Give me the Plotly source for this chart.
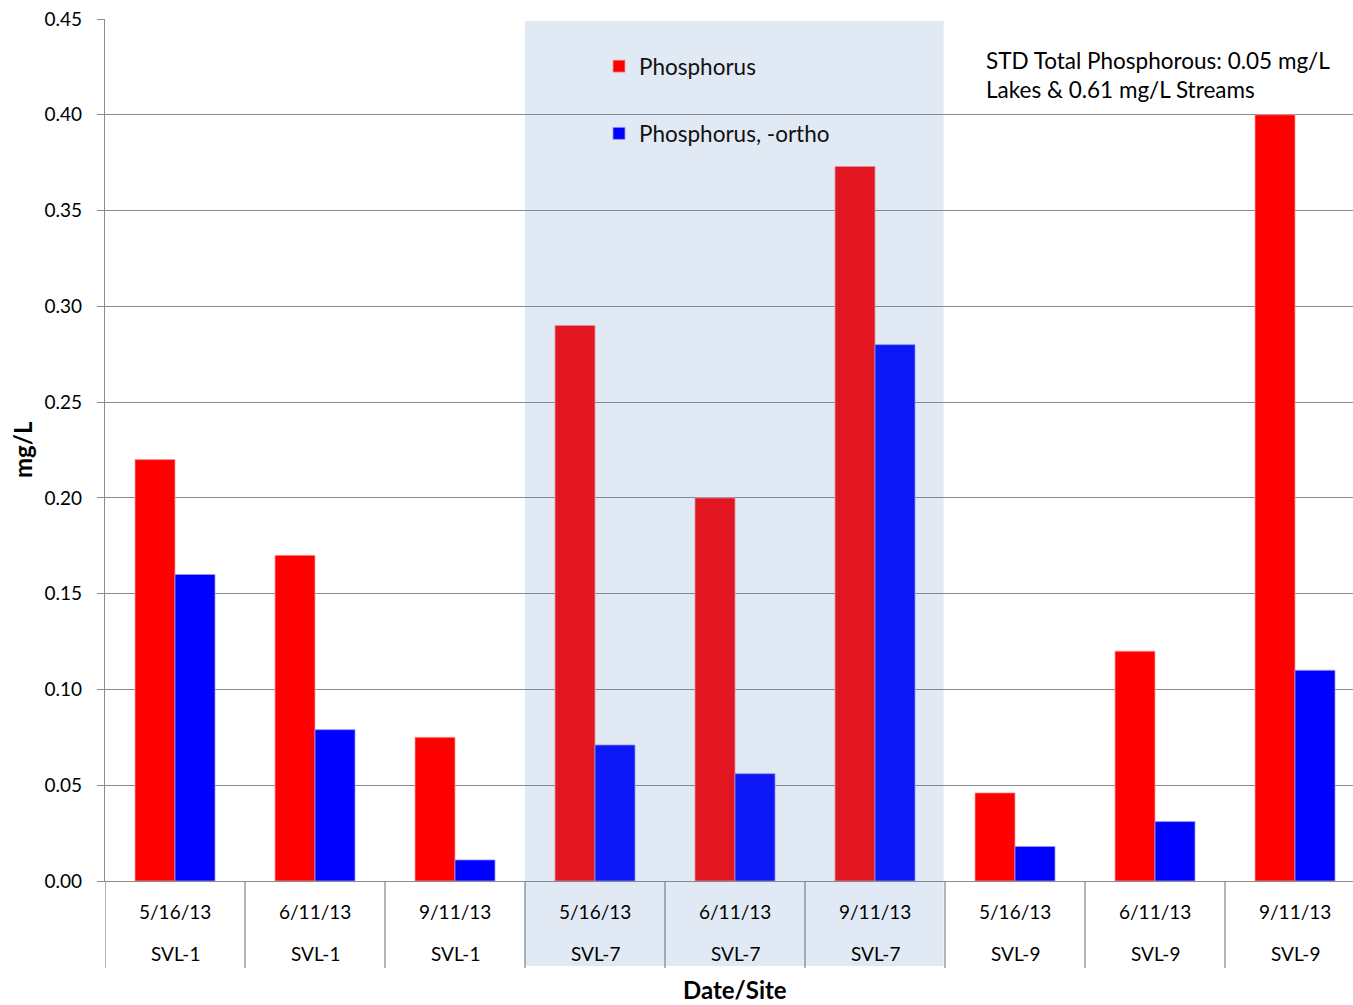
import plotly.graph_objects as go

dates = ["5/16/13", "6/11/13", "9/11/13", "5/16/13", "6/11/13", "9/11/13", "5/16/13", "6/11/13", "9/11/13"]
sites = ["SVL-1", "SVL-1", "SVL-1", "SVL-7", "SVL-7", "SVL-7", "SVL-9", "SVL-9", "SVL-9"]
phosphorus = [0.22, 0.17, 0.075, 0.29, 0.20, 0.373, 0.046, 0.12, 0.40]
ortho = [0.16, 0.079, 0.011, 0.071, 0.056, 0.28, 0.018, 0.031, 0.11]
y_ticks = [0.00, 0.05, 0.10, 0.15, 0.20, 0.25, 0.30, 0.35, 0.40, 0.45]

FONT = "Lato"
GRID = "#8c8c8c"
idx = list(range(len(dates)))

fig = go.Figure()
fig.add_trace(go.Bar(x=idx, y=phosphorus, name="Phosphorus",
                     marker=dict(color="#FF0000", line=dict(color="rgba(255,150,150,0.8)", width=1)),
                     legendgroup="a"))
fig.add_trace(go.Bar(x=idx, y=ortho, name="Phosphorus, -ortho",
                     marker=dict(color="#0000FF", line=dict(color="rgba(150,150,255,0.8)", width=1)),
                     legendgroup="b"))

shapes = []
# white box behind the legend masking the gridline
shapes.append(dict(type="rect", xref="paper", yref="paper", x0=(563-105)/1248, x1=(883-105)/1248,
                   y0=(881-150)/862, y1=(881-22)/862, fillcolor="white", line=dict(width=0), layer="between"))
# category separators below the axis
for i in range(len(dates) + 1):
    shapes.append(dict(type="line", xref="x", yref="paper", x0=i - 0.5, x1=i - 0.5,
                       y0=0, y1=-(968-881)/862, line=dict(color=GRID, width=1.3), layer="above"))
# shaded SVL-7 band (semi-transparent, over everything)
shapes.append(dict(type="rect", xref="x", yref="paper", x0=2.5, x1=5.49,
                   y0=-(966-881)/862, y1=(881-21)/862, fillcolor="#4F81BD", opacity=0.17,
                   line=dict(width=0), layer="above"))

annotations = []
for i in idx:
    annotations.append(dict(x=i, y=-(911-881)/862, xref="x", yref="paper", text=dates[i],
                            showarrow=False, xanchor="center", yanchor="middle",
                            font=dict(family=FONT, size=19, color="#000")))
    annotations.append(dict(x=i, y=-(953-881)/862, xref="x", yref="paper", text=sites[i],
                            showarrow=False, xanchor="center", yanchor="middle",
                            font=dict(family=FONT, size=19, color="#000")))
annotations.append(dict(x=(735-105)/1248, y=-(989-881)/862, xref="paper", yref="paper",
                        text="<b>Date/Site</b>", showarrow=False, xanchor="center", yanchor="middle",
                        font=dict(family=FONT, size=24, color="#000")))
annotations.append(dict(x=(22-105)/1248, y=0.5, xref="paper", yref="paper", text="<b>mg/L</b>",
                        textangle=-90, showarrow=False, xanchor="center", yanchor="middle",
                        font=dict(family=FONT, size=24, color="#000")))
annotations.append(dict(x=(984-105)/1248, y=(881-75)/862, xref="paper", yref="paper",
                        text="STD Total Phosphorous: 0.05 mg/L<br>Lakes &amp; 0.61 mg/L Streams",
                        showarrow=False, xanchor="left", yanchor="middle", align="left",
                        font=dict(family=FONT, size=22.5, color="#000")))

fig.update_layout(
    width=1353, height=1005,
    margin=dict(l=105, r=0, t=19, b=124),
    paper_bgcolor="white", plot_bgcolor="white",
    barmode="group", bargap=0.4286, bargroupgap=0,
    showlegend=True,
    legend=dict(x=(599-105)/1248, y=(881-45)/862, xanchor="left", yanchor="top",
                bgcolor="rgba(0,0,0,0)", traceorder="grouped", tracegroupgap=35,
                font=dict(family=FONT, size=22.5, color="#111")),
    shapes=shapes, annotations=annotations,
    font=dict(family=FONT, color="#000"),
)
fig.update_xaxes(range=[-0.5, (1353-105)/140 - 0.5], showticklabels=False, ticks="",
                 showgrid=False, showline=True, linecolor=GRID, linewidth=1.3, zeroline=False,
                 fixedrange=True)
fig.update_yaxes(range=[0, 0.45], tickvals=y_ticks, tickformat=".2f", showgrid=True,
                 gridcolor=GRID, gridwidth=1.3, showline=True, linecolor=GRID, linewidth=1.3,
                 ticks="outside", ticklen=7, tickcolor=GRID, tickwidth=1.3, zeroline=False,
                 ticklabelstandoff=11, tickfont=dict(family=FONT, size=19, color="#000"))

fig.write_html("out.html", config={"displayModeBar": False},
               post_script="document.body.style.margin='0';")
